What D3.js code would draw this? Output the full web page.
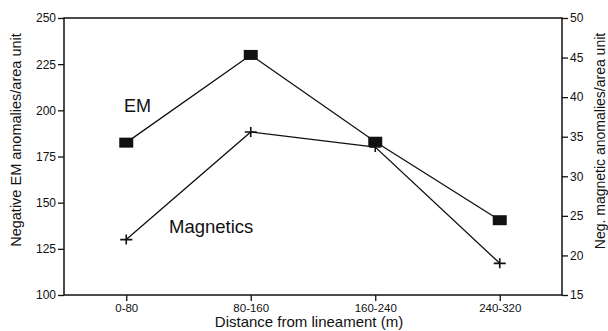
<!DOCTYPE html>
<html>
<head>
<meta charset="utf-8">
<script src="https://cdn.jsdelivr.net/npm/d3@7"></script>
<style>
  html, body { margin: 0; padding: 0; background: #fff; }
  svg { display: block; font-family: "Liberation Sans", Arial, Helvetica, sans-serif; }
</style>
</head>
<body>
<svg id="chart" width="608" height="331"></svg>
<script>
// Data
const categories = ["0-80", "80-160", "160-240", "240-320"];
const emValues = [182.5, 230, 183, 140.5];      // left axis
const magValues = [22, 35.6, 33.7, 19];         // right axis
const leftTicks = [100, 125, 150, 175, 200, 225, 250];
const rightTicks = [15, 20, 25, 30, 35, 40, 45, 50];

const svg = d3.select("#chart");
const margin = { top: 18, right: 46, bottom: 36, left: 64 };
const W = +svg.attr("width"), H = +svg.attr("height");
const x0 = margin.left, x1 = W - margin.right;
const y0 = margin.top, y1 = H - margin.bottom;
const ink = "#111";

const x = d3.scalePoint().domain(categories).range([x0, x1]).padding(0.5);
const yL = d3.scaleLinear().domain([100, 250]).range([y1, y0]);
const yR = d3.scaleLinear().domain([15, 50]).range([y1, y0]);

// Frame
svg.append("rect")
  .attr("x", x0).attr("y", y0)
  .attr("width", x1 - x0).attr("height", y1 - y0)
  .attr("fill", "none").attr("stroke", ink).attr("stroke-width", 1.5);

function styleAxis(g) {
  g.select(".domain").remove();
  g.selectAll(".tick line").attr("stroke", ink).attr("stroke-width", 1.3);
  g.selectAll(".tick text").attr("fill", ink).style("font-size", "12px")
    .attr("font-family", null);
}

// Left axis
svg.append("g")
  .attr("transform", `translate(${x0},0)`)
  .call(d3.axisLeft(yL).tickValues(leftTicks).tickSize(6).tickPadding(2))
  .call(styleAxis);

// Right axis
svg.append("g")
  .attr("transform", `translate(${x1},0)`)
  .call(d3.axisRight(yR).tickValues(rightTicks).tickSize(6).tickPadding(2))
  .call(styleAxis);

// Bottom axis
svg.append("g")
  .attr("transform", `translate(0,${y1})`)
  .call(d3.axisBottom(x).tickSize(6).tickPadding(3))
  .call(styleAxis)
  .selectAll(".tick text").style("font-size", "11.5px");

// Axis titles
svg.append("text")
  .attr("x", (x0 + x1) / 2 - 4).attr("y", 327)
  .attr("text-anchor", "middle").attr("fill", ink)
  .style("font-size", "15px")
  .text("Distance from lineament (m)");

svg.append("text")
  .attr("transform", "translate(21,140) rotate(-90)")
  .attr("text-anchor", "middle").attr("fill", ink)
  .style("font-size", "14.5px")
  .text("Negative EM anomalies/area unit");

svg.append("text")
  .attr("transform", "translate(605,141) rotate(-90)")
  .attr("text-anchor", "middle").attr("fill", ink)
  .style("font-size", "14px")
  .text("Neg. magnetic anomalies/area unit");

// EM series
const emLine = d3.line().x((d, i) => x(categories[i])).y(d => yL(d));
svg.append("path")
  .datum(emValues)
  .attr("d", emLine)
  .attr("fill", "none").attr("stroke", ink).attr("stroke-width", 1.3);

// Magnetics series
const magLine = d3.line().x((d, i) => x(categories[i])).y(d => yR(d));
svg.append("path")
  .datum(magValues)
  .attr("d", magLine)
  .attr("fill", "none").attr("stroke", ink).attr("stroke-width", 1.3);

// Square markers
svg.selectAll(".em-pt")
  .data(emValues)
  .enter().append("rect")
  .attr("class", "em-pt")
  .attr("x", (d, i) => x(categories[i]) - 7)
  .attr("y", d => yL(d) - 5)
  .attr("width", 14).attr("height", 10)
  .attr("fill", ink);

// Plus markers
const plus = svg.selectAll(".mag-pt")
  .data(magValues)
  .enter().append("path")
  .attr("class", "mag-pt")
  .attr("d", (d, i) => {
    const cx = x(categories[i]), cy = yR(d);
    return `M${cx - 6},${cy}H${cx + 6}M${cx},${cy - 5}V${cy + 5}`;
  })
  .attr("stroke", ink).attr("stroke-width", 1.6).attr("fill", "none");

// Series labels
svg.append("text")
  .attr("x", 124).attr("y", 112)
  .attr("fill", ink).style("font-size", "18px")
  .text("EM");

svg.append("text")
  .attr("x", 169).attr("y", 233)
  .attr("fill", ink).style("font-size", "18.5px")
  .text("Magnetics");
</script>
</body>
</html>
